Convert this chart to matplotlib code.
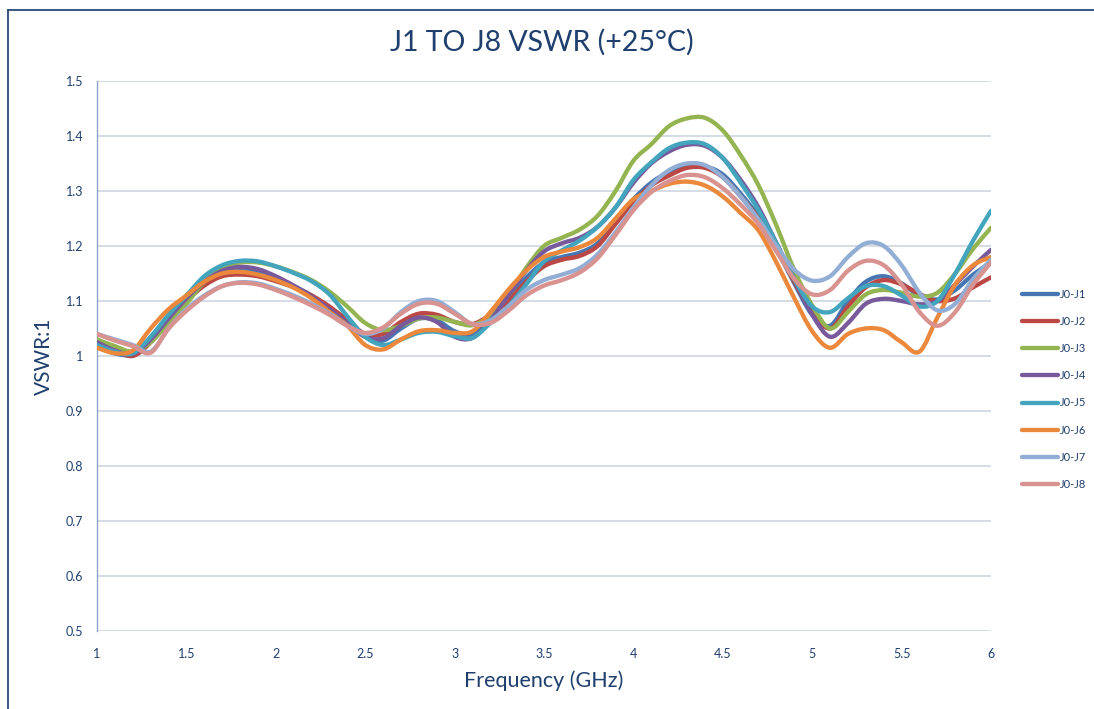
import numpy as np
import matplotlib
matplotlib.use("Agg")
import matplotlib.pyplot as plt
from matplotlib.path import Path
from matplotlib.patches import PathPatch
from matplotlib.lines import Line2D

plt.rcParams['font.family'] = ['Lato', 'DejaVu Sans']

freq = [round(1.0 + 0.1 * i, 1) for i in range(51)]

j1 = [1.02, 1.005, 1.003, 1.03, 1.068, 1.105, 1.135, 1.152, 1.157, 1.152,
      1.14, 1.127, 1.11, 1.088, 1.06, 1.035, 1.028, 1.05, 1.068, 1.065,
      1.045, 1.04, 1.07, 1.105, 1.142, 1.17, 1.18, 1.188, 1.205, 1.245,
      1.285, 1.315, 1.335, 1.346, 1.345, 1.33, 1.295, 1.253, 1.195, 1.132,
      1.075, 1.055, 1.1, 1.135, 1.145, 1.132, 1.11, 1.103, 1.12, 1.148, 1.17]
j2 = [1.03, 1.012, 1.0, 1.025, 1.065, 1.1, 1.128, 1.145, 1.148, 1.145,
      1.136, 1.125, 1.11, 1.09, 1.065, 1.04, 1.04, 1.062, 1.077, 1.075,
      1.062, 1.058, 1.075, 1.1, 1.135, 1.163, 1.175, 1.182, 1.2, 1.24,
      1.28, 1.31, 1.328, 1.342, 1.342, 1.325, 1.29, 1.25, 1.195, 1.135,
      1.08, 1.05, 1.09, 1.125, 1.138, 1.13, 1.113, 1.1, 1.105, 1.125, 1.143]
j3 = [1.03, 1.018, 1.008, 1.025, 1.06, 1.095, 1.135, 1.16, 1.17, 1.17,
      1.163, 1.152, 1.138, 1.117, 1.09, 1.06, 1.047, 1.055, 1.068, 1.07,
      1.062, 1.056, 1.075, 1.11, 1.16, 1.2, 1.215, 1.23, 1.255, 1.3,
      1.355, 1.385, 1.418, 1.432, 1.433, 1.41, 1.365, 1.31, 1.237, 1.156,
      1.092, 1.05, 1.08, 1.112, 1.12, 1.115, 1.108, 1.115, 1.15, 1.195, 1.233]
j4 = [1.025, 1.01, 1.004, 1.03, 1.068, 1.105, 1.135, 1.155, 1.162, 1.158,
      1.145, 1.128, 1.108, 1.085, 1.06, 1.035, 1.032, 1.055, 1.07, 1.062,
      1.035, 1.033, 1.065, 1.11, 1.155, 1.19, 1.205, 1.215, 1.235, 1.27,
      1.315, 1.35, 1.372, 1.384, 1.382, 1.36, 1.32, 1.27, 1.205, 1.14,
      1.075, 1.035, 1.06, 1.095, 1.104, 1.1, 1.094, 1.1, 1.13, 1.163, 1.193]
j5 = [1.02, 1.008, 1.005, 1.035, 1.075, 1.11, 1.145, 1.165, 1.173, 1.172,
      1.163, 1.151, 1.136, 1.112, 1.072, 1.035, 1.02, 1.03, 1.042, 1.044,
      1.036, 1.033, 1.06, 1.09, 1.13, 1.172, 1.192, 1.21, 1.235, 1.27,
      1.32, 1.352, 1.378, 1.388, 1.385, 1.36, 1.315, 1.265, 1.205, 1.14,
      1.09, 1.08, 1.105, 1.127, 1.127, 1.11, 1.09, 1.1, 1.15, 1.21, 1.264]
j6 = [1.015, 1.005, 1.01, 1.05, 1.085, 1.11, 1.135, 1.15, 1.153, 1.148,
      1.138, 1.124, 1.105, 1.08, 1.055, 1.02, 1.012, 1.03, 1.045, 1.047,
      1.042, 1.045, 1.08, 1.12, 1.155, 1.18, 1.19, 1.198, 1.215, 1.25,
      1.285, 1.3, 1.313, 1.317, 1.31, 1.29, 1.26, 1.228, 1.17, 1.105,
      1.045, 1.015, 1.04, 1.05, 1.047, 1.025, 1.008, 1.07, 1.13, 1.165, 1.18]
j7 = [1.04, 1.03, 1.02, 1.008, 1.05, 1.085, 1.11, 1.127, 1.134, 1.132,
      1.122, 1.11, 1.095, 1.077, 1.055, 1.04, 1.05, 1.08, 1.1, 1.1,
      1.08, 1.058, 1.065, 1.09, 1.12, 1.138, 1.148, 1.16, 1.185, 1.225,
      1.27, 1.31, 1.338, 1.35, 1.347, 1.325, 1.29, 1.248, 1.2, 1.157,
      1.137, 1.145, 1.18, 1.205, 1.2, 1.165, 1.115, 1.083, 1.095, 1.14, 1.175]
j8 = [1.04, 1.028, 1.018, 1.006, 1.05, 1.082, 1.108, 1.127, 1.133, 1.13,
      1.12, 1.107, 1.092, 1.075, 1.055, 1.042, 1.052, 1.077, 1.095, 1.095,
      1.077, 1.058, 1.06, 1.082, 1.11, 1.128, 1.138, 1.152, 1.178, 1.22,
      1.265, 1.298, 1.318, 1.329, 1.325, 1.305, 1.275, 1.24, 1.19, 1.14,
      1.112, 1.12, 1.155, 1.173, 1.165, 1.13, 1.08, 1.055, 1.08, 1.13, 1.17]

labels = ['J0-J1', 'J0-J2', 'J0-J3', 'J0-J4', 'J0-J5', 'J0-J6', 'J0-J7', 'J0-J8']
series = [j1, j2, j3, j4, j5, j6, j7, j8]
colors = ['#4677B3', '#BB4845', '#94B451', '#78599B', '#43A4BD', '#EB883C', '#93AED4', '#D89290']

title = 'J1 TO J8 VSWR (+25°C)'
xlabel = 'Frequency (GHz)'
ylabel = 'VSWR:1'
xticks = [1, 1.5, 2, 2.5, 3, 3.5, 4, 4.5, 5, 5.5, 6]
yticks = [0.5, 0.6, 0.7, 0.8, 0.9, 1, 1.1, 1.2, 1.3, 1.4, 1.5]

txt = '#1F3F6E'

fig = plt.figure(figsize=(10.94, 7.09), dpi=100)
ax = fig.add_axes([97/1094, 1 - 631/709, (991-97)/1094, (631-81)/709])


def smooth_path(x, y):
    x = np.asarray(x, float)
    y = np.asarray(y, float)
    n = len(x)
    verts = [(x[0], y[0])]
    codes = [Path.MOVETO]
    for i in range(n - 1):
        i0 = max(i - 1, 0)
        i3 = min(i + 2, n - 1)
        c1 = (x[i] + (x[i+1] - x[i0]) / 6, y[i] + (y[i+1] - y[i0]) / 6)
        c2 = (x[i+1] - (x[i3] - x[i]) / 6, y[i+1] - (y[i3] - y[i]) / 6)
        verts += [c1, c2, (x[i+1], y[i+1])]
        codes += [Path.CURVE4] * 3
    return Path(verts, codes)


lw = 3.1
handles = []
for k, (vals, c, lab) in enumerate(zip(series, colors, labels)):
    p = PathPatch(smooth_path(freq, vals), facecolor='none', edgecolor=c,
                  lw=lw, capstyle='round', joinstyle='round', zorder=3 + k)
    ax.add_patch(p)
    handles.append(Line2D([], [], color=c, lw=lw, solid_capstyle='round', label=lab))

ax.set_xlim(1, 6)
ax.set_ylim(0.5, 1.5)
ax.set_xticks(xticks)
ax.set_yticks(yticks)
ax.set_xticklabels(['{:g}'.format(v) for v in xticks])
ax.set_yticklabels(['{:g}'.format(v) for v in yticks])
ax.tick_params(axis='both', length=0, labelsize=9, colors=txt)
ax.tick_params(axis='x', pad=12)
ax.tick_params(axis='y', pad=10)
ax.grid(axis='y', color='#CDD5E2', lw=1.2, zorder=0)
ax.set_axisbelow(True)
for s in ['top', 'right', 'bottom']:
    ax.spines[s].set_visible(False)
ax.spines['left'].set_color('#8EA4C6')
ax.spines['left'].set_linewidth(1.0)

fig.text(542/1094, 1 - 42/709, title, ha='center', va='center', fontsize=20.5, color=txt)
fig.text(544/1094, 1 - 681/709, xlabel, ha='center', va='center', fontsize=15.5, color=txt)
fig.text(44/1094, 1 - 356/709, ylabel, ha='center', va='center', fontsize=15, color=txt, rotation=90)

fig.legend(handles=handles, loc='upper left', bbox_to_anchor=(1012/1094, 1 - 279/709),
           frameon=False, fontsize=8, handlelength=3.2, handletextpad=0.2,
           labelspacing=1.45, labelcolor=txt)

fig.add_artist(Line2D([8/1094, 1.0], [1 - 10/709, 1 - 10/709], color='#2B4A78', lw=1.3))
fig.add_artist(Line2D([8/1094, 8/1094], [0, 1 - 10/709], color='#2B4A78', lw=1.3))

fig.savefig('out.png', dpi=100)
